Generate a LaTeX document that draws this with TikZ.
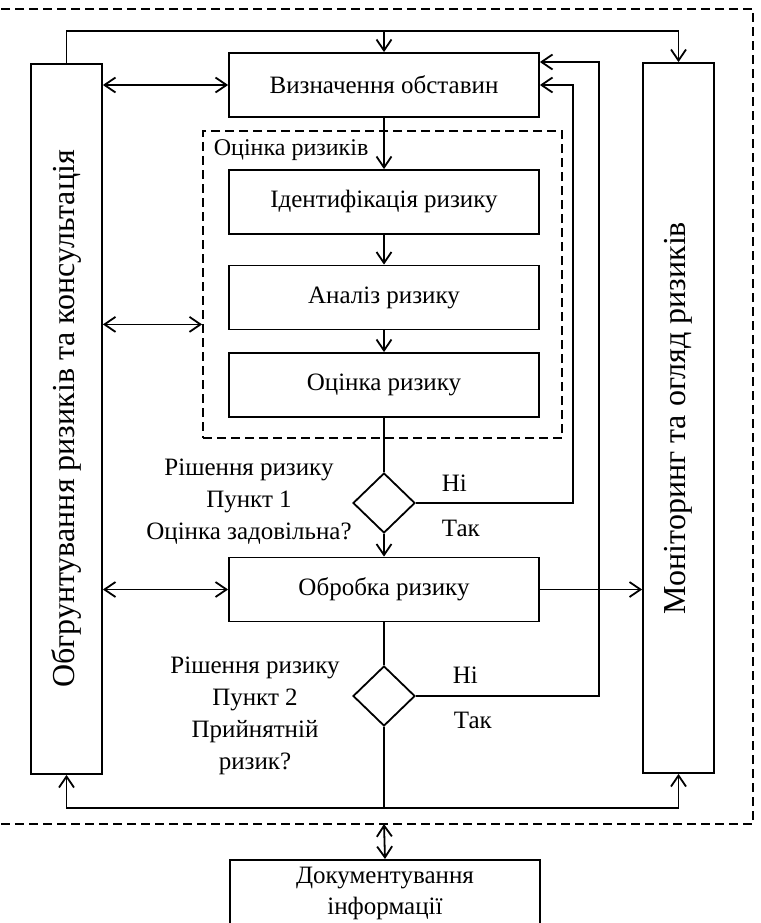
\documentclass[tikz,border=0pt]{standalone}
\usepackage{fontspec}
\setmainfont{Liberation Serif}
\usepackage{tikz}
\usetikzlibrary{arrows.meta,shapes.geometric,positioning,calc}

\begin{document}
\begin{tikzpicture}[x=1pt,y=-1pt,line width=1.8pt,
  >={Straight Barb[length=11pt,width=15pt]},
  box/.style={draw,align=center,minimum width=310pt,minimum height=64pt,font=\fontsize{25}{31}\selectfont},
  col/.style={draw,minimum width=71pt,minimum height=710pt},
  coltext/.style={rotate=90,font=\fontsize{32}{38}\selectfont},
  txt/.style={align=center,font=\fontsize{25}{32}\selectfont},
  yesno/.style={anchor=west,inner sep=0pt,font=\fontsize{25}{32}\selectfont},
  dec/.style={draw,diamond,minimum width=62pt,minimum height=60pt,inner sep=0pt},
  frame/.style={dash pattern=on 9pt off 5pt}]
\clip (0,0) rectangle (760,923);
\draw[frame] (-10,9) rectangle (753,824);
\node[draw,frame,minimum width=359pt,minimum height=307pt] (ocbox) at (382.5,284.5) {};
\node[yesno,font=\fontsize{24}{30}\selectfont] (oclabel) at (213,150) {Оцінка ризиків};

\node[box] (viz) at (384,85) {Визначення обставин};
\node[box] (ident) at (384,202) {Ідентифікація ризику};
\node[box] (analiz) at (384,297.5) {Аналіз ризику};
\node[box] (ocinka) at (384,385) {Оцінка ризику};
\node[dec] (d1) at (384,503) {};
\node[box] (obrob) at (384,589.5) {Обробка ризику};
\node[dec] (d2) at (384,696) {};
\node[box,anchor=north,minimum height=68pt] (doc) at (385,859) {Документування\\інформації};

\node[col] (lcol) at (66.5,419) {};
\node[coltext] (ltext) at (lcol) {Обгрунтування ризиків та консультація};
\node[col] (rcol) at (678.5,418) {};
\node[coltext] (rtext) at (rcol) {Моніторинг та огляд ризиків};

\node[txt] (q1) at (249,502) {Рішення ризику\\Пункт 1\\Оцінка задовільна?};
\node[txt] (q2) at (255,716) {Рішення ризику\\Пункт 2\\Прийнятній\\ризик?};
\node[yesno] (no1) at (441,483) {Ні};
\node[yesno] (yes1) at (441,528) {Так};
\node[yesno] (no2) at (452,675) {Ні};
\node[yesno] (yes2) at (453,720) {Так};

\coordinate (top) at (384,31);
\coordinate (bot) at (384,808);
\coordinate (r1) at (573,0);
\coordinate (r2) at (599,0);
\coordinate (vizin) at ([yshift=23pt]viz.east);
\coordinate (midl) at ([yshift=6pt]analiz.south);
\coordinate (fb) at (384,824);

\draw[->] (lcol.north) |- (top) -| (rcol.north);
\draw[->] (top) -- (viz.north);
\draw[<->] (viz.west -| lcol.east) -- (viz.west);
\draw[<->] (midl -| lcol.east) -- (midl -| ocbox.west);
\draw[->] (viz.south) -- (ident.north);
\draw[->] (ident.south) -- (analiz.north);
\draw[->] (analiz.south) -- (ocinka.north);
\draw (ocinka.south) -- (d1.north);
\draw[->] (d1.south) -- (obrob.north);
\draw[<->] (obrob.west -| lcol.east) -- (obrob.west);
\draw[->] (obrob.east) -- (obrob.east -| rcol.west);
\draw (obrob.south) -- (d2.north);
\draw (d2.south) -- (bot);
\draw[->] (bot) -| (lcol.south);
\draw[->] (bot) -| (rcol.south);
\draw[->] (d1.east) -| (r1 |- viz.east) -- (viz.east);
\draw[->] (d2.east) -| (r2 |- vizin) -- (vizin);
\draw[<->] (fb) -- (doc.north);
\end{tikzpicture}
\end{document}
